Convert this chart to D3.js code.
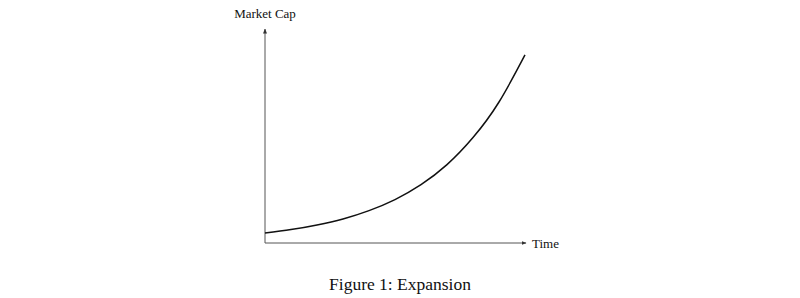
<!DOCTYPE html>
<html>
<head>
<meta charset="utf-8">
<script src="https://cdn.jsdelivr.net/npm/d3@7"></script>
<style>
  html, body { margin: 0; padding: 0; background: #fff; }
  svg { display: block; }
</style>
</head>
<body>
<svg id="chart" width="800" height="298"></svg>
<script>
const times = [0, 1, 2, 3, 4, 5, 6, 7, 8, 9, 10];
const marketCap = [4.7, 6.3, 8.5, 11.3, 15.2, 20.4, 27.4, 36.8, 49.5, 66.2, 88.3];
const xLabel = "Time";
const yLabel = "Market Cap";
const caption = "Figure 1: Expansion";

const svg = d3.select("#chart");
const x = d3.scaleLinear().domain([0, 10]).range([265, 525]);
const y = d3.scaleLinear().domain([0, 100]).range([243, 30]);

const defs = svg.append("defs");
defs.append("marker")
  .attr("id", "arrow")
  .attr("viewBox", "0 0 10 10")
  .attr("refX", 9).attr("refY", 5)
  .attr("markerWidth", 5).attr("markerHeight", 5)
  .attr("markerUnits", "userSpaceOnUse")
  .attr("orient", "auto")
  .append("path")
  .attr("d", "M0,1 L10,5 L0,9 Z")
  .attr("fill", "#333");

// y axis
svg.append("line")
  .attr("x1", x(0)).attr("y1", y(0))
  .attr("x2", x(0)).attr("y2", y(100) - 1)
  .attr("stroke", "#555").attr("stroke-width", 1)
  .attr("marker-end", "url(#arrow)");
// x axis
svg.append("line")
  .attr("x1", x(0)).attr("y1", y(0))
  .attr("x2", x(10) + 1).attr("y2", y(0))
  .attr("stroke", "#555").attr("stroke-width", 1)
  .attr("marker-end", "url(#arrow)");

const line = d3.line()
  .x((d, i) => x(times[i]))
  .y(d => y(d))
  .curve(d3.curveNatural);

svg.append("path")
  .datum(marketCap)
  .attr("d", line)
  .attr("fill", "none")
  .attr("stroke", "#111")
  .attr("stroke-width", 1.5);

svg.append("text")
  .attr("x", x(0)).attr("y", 18)
  .attr("text-anchor", "middle")
  .attr("font-family", "'Liberation Serif', 'Times New Roman', serif")
  .attr("font-size", 13)
  .attr("fill", "#111")
  .text(yLabel);

svg.append("text")
  .attr("x", 532).attr("y", y(0) + 5)
  .attr("font-family", "'Liberation Serif', 'Times New Roman', serif")
  .attr("font-size", 13)
  .attr("fill", "#111")
  .text(xLabel);

svg.append("text")
  .attr("x", 400).attr("y", 290)
  .attr("text-anchor", "middle")
  .attr("font-family", "'Liberation Serif', 'Times New Roman', serif")
  .attr("font-size", 17.5)
  .attr("fill", "#111")
  .text(caption);
</script>
</body>
</html>
